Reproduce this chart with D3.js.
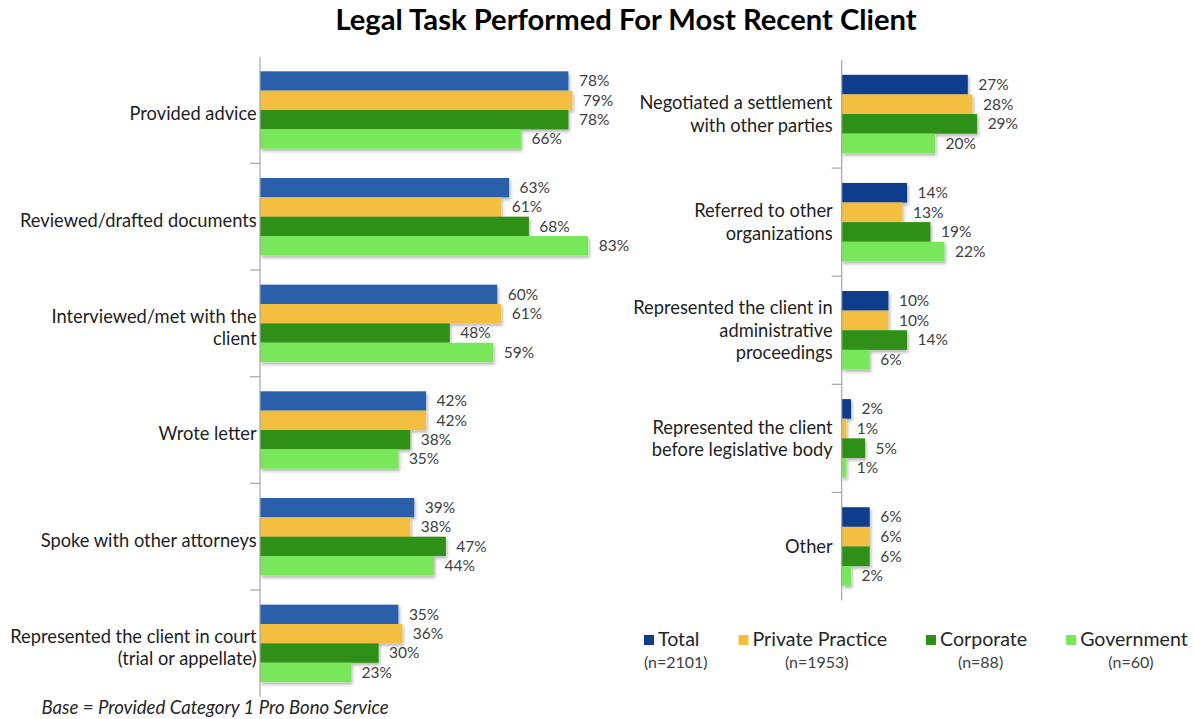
<!DOCTYPE html>
<html>
<head>
<meta charset="utf-8">
<script src="https://cdn.jsdelivr.net/npm/d3@7/dist/d3.min.js"></script>
<style>
  html, body { margin: 0; padding: 0; background: #ffffff; }
  svg { display: block; font-family: Lato, "Open Sans", sans-serif; }
</style>
</head>
<body>
<svg id="chart" width="1194" height="719"></svg>
<script>
// Survey results: share of respondents performing each legal task
const seriesNames = ["Total", "Private Practice", "Corporate", "Government"];
const seriesCounts = ["(n=2101)", "(n=1953)", "(n=88)", "(n=60)"];

const leftCategories = [
  "Provided advice",
  "Reviewed/drafted documents",
  "Interviewed/met with the\nclient",
  "Wrote letter",
  "Spoke with other attorneys",
  "Represented the client in court\n(trial or appellate)"
];
const leftTotal      = [78, 63, 60, 42, 39, 35];
const leftPrivate    = [79, 61, 61, 42, 38, 36];
const leftCorporate  = [78, 68, 48, 38, 47, 30];
const leftGovernment = [66, 83, 59, 35, 44, 23];

const rightCategories = [
  "Negotiated a settlement\nwith other parties",
  "Referred to other\norganizations",
  "Represented the client in\nadministrative\nproceedings",
  "Represented the client\nbefore legislative body",
  "Other"
];
const rightTotal      = [27, 14, 10, 2, 6];
const rightPrivate    = [28, 13, 10, 1, 6];
const rightCorporate  = [29, 19, 14, 5, 6];
const rightGovernment = [20, 22, 6, 1, 2];

const titleText = "Legal Task Performed For Most Recent Client";
const footnoteText = "Base = Provided Category 1 Pro Bono Service";

// colours
const colorTotalDark = "#0b3d8b";
const colorTotalLeft = "#2a5fa9";
const colorPrivate = "#f4be40";
const colorCorporate = "#2e9012";
const colorGovernment = "#78e85a";

const svg = d3.select("#chart");

const defs = svg.append("defs");
const shadow = defs.append("filter").attr("id", "barShadow")
  .attr("x", "-5%").attr("y", "-10%").attr("width", "115%").attr("height", "130%");
shadow.append("feDropShadow")
  .attr("dx", 1.5).attr("dy", 2.5).attr("stdDeviation", 1.6)
  .attr("flood-color", "#000").attr("flood-opacity", 0.28);

// title
svg.append("text")
  .attr("x", 626).attr("y", 30)
  .attr("text-anchor", "middle")
  .attr("font-weight", 700).attr("font-size", 29.2)
  .attr("fill", "#000")
  .text(titleText);

function drawPanel(opts) {
  const { categories, series, colors, axisX, pxPerPct, top, bottom, labelGap, labelShift } = opts;
  const g = svg.append("g");

  const x = d3.scaleLinear().domain([0, 100]).range([axisX, axisX + pxPerPct * 100]);
  const y = d3.scaleBand().domain(categories).range([top, bottom]).padding(0);
  const pad = y.bandwidth() * 0.137;
  const ySeries = d3.scaleBand().domain(seriesNames).range([pad, y.bandwidth() - pad]).padding(0);

  const rows = categories.map((c, i) => ({
    category: c,
    values: seriesNames.map((s, k) => ({ series: s, value: series[k][i], color: colors[k] }))
  }));

  const groups = g.selectAll("g.cat").data(rows).join("g")
    .attr("class", "cat")
    .attr("transform", d => `translate(0,${y(d.category)})`);

  groups.append("g").attr("filter", "url(#barShadow)")
    .selectAll("rect").data(d => d.values).join("rect")
    .attr("x", x(0))
    .attr("y", d => ySeries(d.series))
    .attr("width", d => x(d.value) - x(0))
    .attr("height", ySeries.bandwidth())
    .attr("fill", d => d.color);

  groups.selectAll("text.val").data(d => d.values).join("text")
    .attr("class", "val")
    .attr("x", d => x(d.value) + 10.5)
    .attr("y", d => ySeries(d.series) + ySeries.bandwidth() / 2)
    .attr("dy", "0.35em")
    .attr("font-size", 15.5)
    .attr("fill", "#404040")
    .text(d => d.value + "%");

  // category axis
  g.append("line")
    .attr("x1", axisX).attr("x2", axisX)
    .attr("y1", top).attr("y2", bottom)
    .attr("stroke", "#a6a6a6").attr("stroke-width", 1.2);
  g.selectAll("line.tick").data(categories.slice(1)).join("line")
    .attr("class", "tick")
    .attr("x1", axisX - 10).attr("x2", axisX)
    .attr("y1", d => y(d)).attr("y2", d => y(d))
    .attr("stroke", "#a6a6a6").attr("stroke-width", 1.2);

  // category labels
  const lineH = 22.5;
  groups.append("text")
    .attr("class", "cat-label")
    .attr("text-anchor", "end")
    .attr("font-size", 18.3)
    .attr("fill", "#1e1e1e")
    .each(function (d) {
      const lines = d.category.split("\n");
      const t = d3.select(this);
      const y0 = y.bandwidth() / 2 + labelShift - (lines.length - 1) * lineH / 2;
      lines.forEach((ln, j) => {
        t.append("tspan")
          .attr("x", axisX - labelGap)
          .attr("y", y0 + j * lineH)
          .attr("dy", "0.35em")
          .text(ln);
      });
    });
}

drawPanel({
  categories: leftCategories,
  series: [leftTotal, leftPrivate, leftCorporate, leftGovernment],
  colors: [colorTotalLeft, colorPrivate, colorCorporate, colorGovernment],
  axisX: 260, pxPerPct: 3.954, top: 56.7, bottom: 696.7,
  labelGap: 3.3, labelShift: 4
});

drawPanel({
  categories: rightCategories,
  series: [rightTotal, rightPrivate, rightCorporate, rightGovernment],
  colors: [colorTotalDark, colorPrivate, colorCorporate, colorGovernment],
  axisX: 841.7, pxPerPct: 4.67, top: 60, bottom: 600.5,
  labelGap: 9, labelShift: 0
});

// legend
const legendColors = [colorTotalDark, colorPrivate, colorCorporate, colorGovernment];
const legend = svg.append("g").attr("class", "legend");
let lx = 644;
seriesNames.forEach((name, i) => {
  const item = legend.append("g");
  item.append("rect")
    .attr("x", lx).attr("y", 635)
    .attr("width", 10).attr("height", 10)
    .attr("fill", legendColors[i]);
  const label = item.append("text")
    .attr("x", lx + 14).attr("y", 646)
    .attr("font-size", 19.6).attr("fill", "#262626")
    .text(name);
  const w = label.node().getComputedTextLength();
  item.append("text")
    .attr("x", lx + 14 + w / 2 - 3).attr("y", 667.5)
    .attr("text-anchor", "middle")
    .attr("font-size", 16).attr("fill", "#404040")
    .text(seriesCounts[i]);
  lx += 14 + w + 39;
});

// footnote
svg.append("text")
  .attr("x", 41.5).attr("y", 714)
  .attr("font-size", 18.6).attr("font-style", "italic")
  .attr("fill", "#262626")
  .text(footnoteText);
</script>
</body>
</html>
